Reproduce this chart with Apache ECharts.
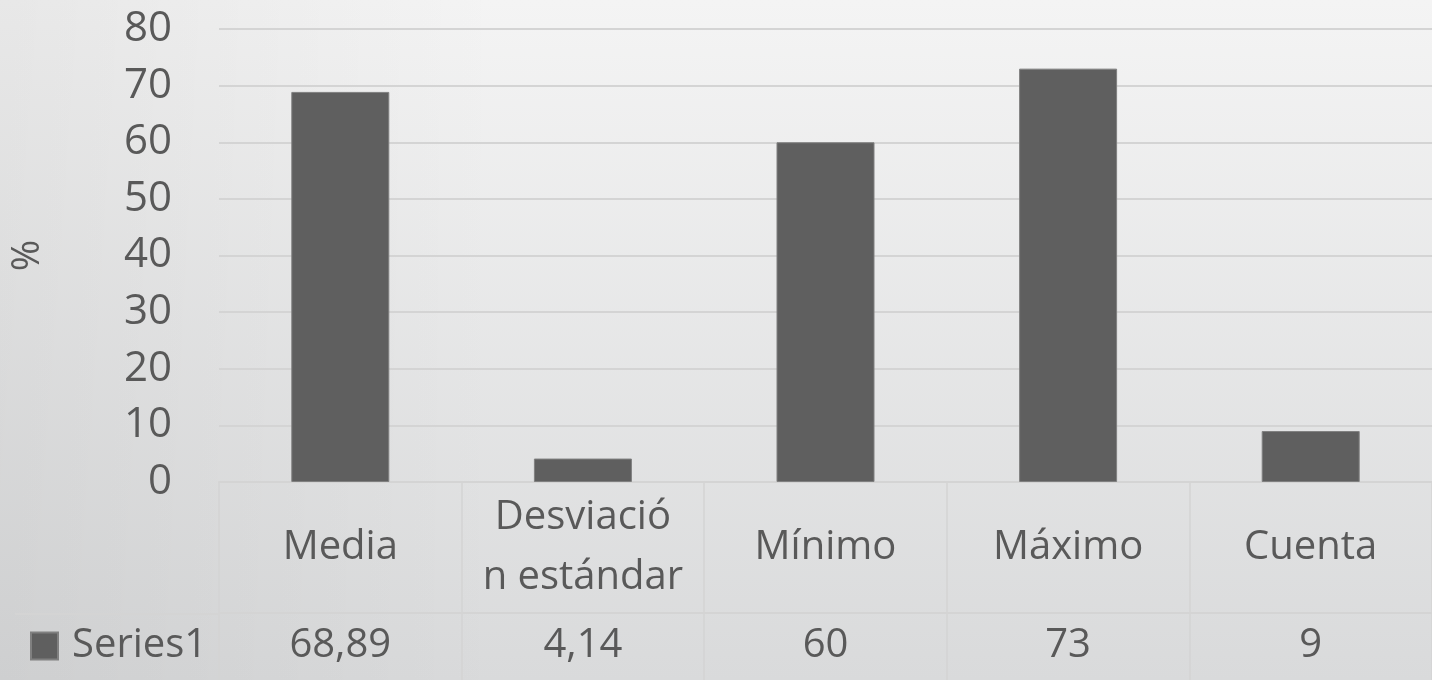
<!DOCTYPE html>
<html>
<head>
<meta charset="utf-8">
<script src="https://cdn.jsdelivr.net/npm/echarts@6/dist/echarts.min.js"></script>
<style>
  html, body { margin: 0; padding: 0; }
  #chart { width: 1432px; height: 680px; }
</style>
</head>
<body>
<div id="chart"></div>
<script>
// categories as printed in the table (Excel wrapped the long one)
const categories = ['Media', 'Desviació\nn estándar', 'Mínimo', 'Máximo', 'Cuenta']
const values = [68.89, 4.14, 60, 73, 9]
const seriesName = 'Series1'
const yTicks = { min: 0, max: 80, interval: 10 }

const textColor = '#595959'
const lineColor = '#d4d4d4'
const font = 'Open Sans'

// Spanish decimal comma
function fmt(v) {
  return String(v).replace('.', ',')
}

const chart = echarts.init(document.getElementById('chart'))

const option = {
  backgroundColor: {
    type: 'linear',
    x: 0, y: 0, x2: 0, y2: 1,
    colorStops: [
      { offset: 0, color: '#f4f4f4' },
      { offset: 1, color: '#d9dadb' },
    ],
  },
  textStyle: { fontFamily: font, color: textColor },
  grid: {
    left: 219,
    right: 0,
    top: 29,
    bottom: 198,
  },
  legend: {
    data: [seriesName],
    left: 30,
    top: 626,
    padding: 0,
    icon: 'rect',
    itemWidth: 27,
    itemHeight: 27,
    textStyle: { fontSize: 40, color: textColor, fontFamily: font, padding: [0, 0, 0, 9] },
  },
  xAxis: [
    {
      type: 'category',
      data: categories,
      position: 'bottom',
      axisLine: { show: true, lineStyle: { color: lineColor, width: 2 } },
      axisTick: { show: true, length: 131, lineStyle: { color: lineColor, width: 1.5 } },
      axisLabel: {
        interval: 0,
        margin: 66,
        verticalAlign: 'middle',
        fontSize: 40,
        lineHeight: 60,
        color: textColor,
        fontFamily: font,
      },
    },
    {
      type: 'category',
      data: categories,
      position: 'bottom',
      offset: 131,
      axisLine: { show: true, lineStyle: { color: lineColor, width: 2 } },
      axisTick: { show: true, length: 70, lineStyle: { color: lineColor, width: 1.5 } },
      axisLabel: {
        interval: 0,
        margin: 33,
        verticalAlign: 'middle',
        fontSize: 40,
        color: textColor,
        fontFamily: font,
        formatter: (v, i) => fmt(values[i]),
      },
    },
  ],
  yAxis: {
    type: 'value',
    min: yTicks.min,
    max: yTicks.max,
    interval: yTicks.interval,
    name: '%',
    nameLocation: 'middle',
    nameGap: 172,
    nameRotate: 90,
    nameTextStyle: { fontSize: 38, color: textColor, fontFamily: font },
    axisLine: { show: false },
    axisTick: { show: false },
    axisLabel: { margin: 47, fontSize: 42, color: textColor, fontFamily: font },
    splitLine: { lineStyle: { color: lineColor, width: 2 } },
  },
  series: [
    {
      name: seriesName,
      type: 'bar',
      data: values,
      barWidth: 98,
      itemStyle: {
        color: '#5f5f5f',
        borderColor: '#808080',
        borderWidth: 1,
      },
    },
  ],
  graphic: [
    {
      // slight darkening toward the left edge of the slide background
      type: 'rect',
      z: -10,
      silent: true,
      shape: { x: 0, y: 0, width: 1432, height: 680 },
      style: {
        fill: {
          type: 'linear',
          x: 0, y: 0, x2: 1, y2: 0,
          colorStops: [
            { offset: 0, color: 'rgba(0,0,0,0.05)' },
            { offset: 0.35, color: 'rgba(0,0,0,0)' },
          ],
        },
      },
    },
    {
      // left part of the table line under the category row
      type: 'line',
      shape: { x1: 15, y1: 614, x2: 219, y2: 614 },
      style: { stroke: lineColor, lineWidth: 2 },
    },
  ],
}

chart.setOption(option)
</script>
</body>
</html>
